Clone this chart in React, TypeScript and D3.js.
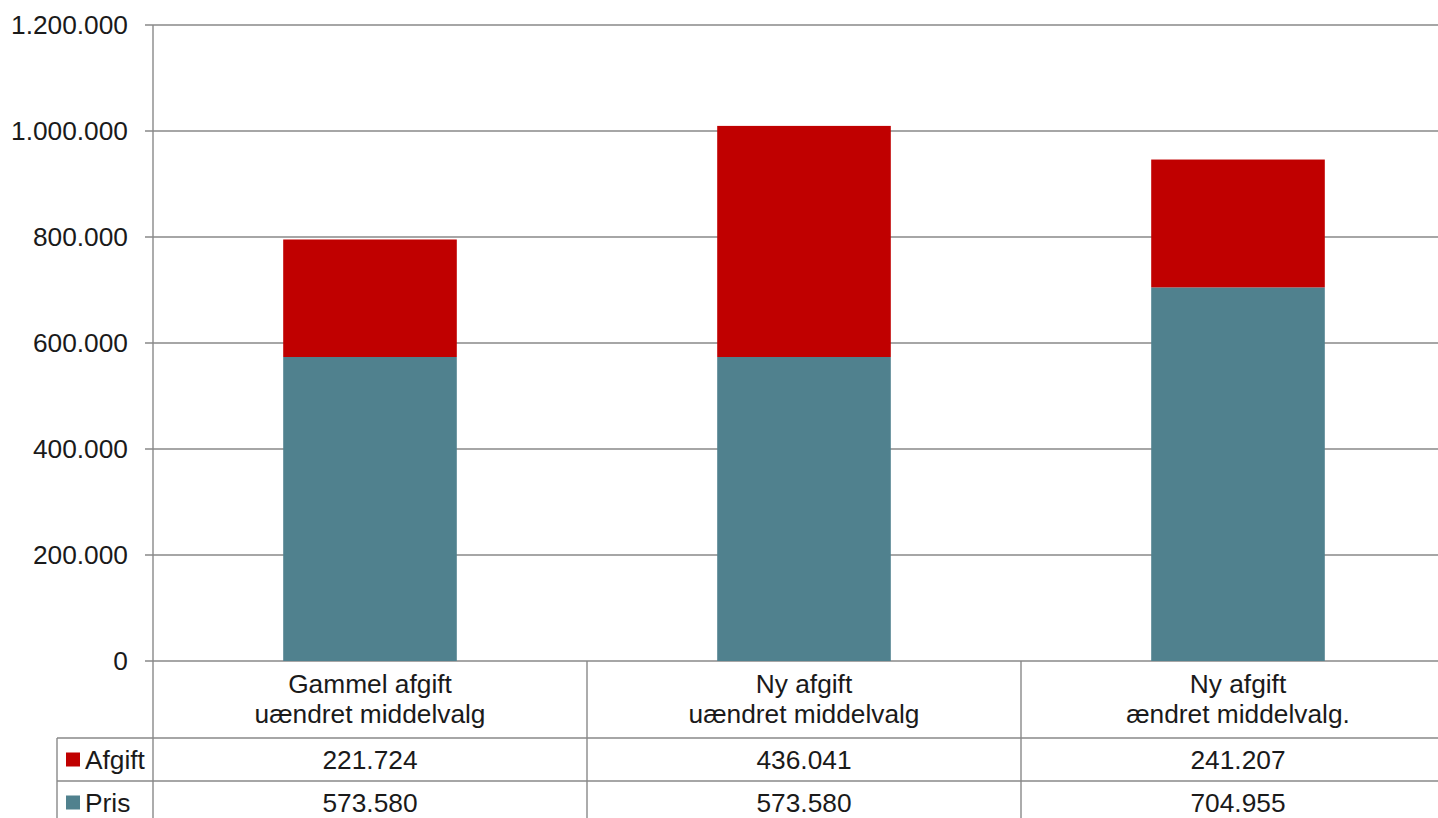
import React from "react";
import * as d3 from "d3";

const categories: string[][] = [
  ["Gammel afgift", "uændret middelvalg"],
  ["Ny afgift", "uændret middelvalg"],
  ["Ny afgift", "ændret middelvalg."],
];
const seriesNames = ["Afgift", "Pris"];
const afgift = [221724, 436041, 241207];
const pris = [573580, 573580, 704955];
const yTicks = [0, 200000, 400000, 600000, 800000, 1000000, 1200000];

const W = 1438;
const H = 818;
const colors: Record<string, string> = { Afgift: "#C00000", Pris: "#50818E" };

const locale = d3.formatLocale({ decimal: ",", thousands: ".", grouping: [3], currency: ["", " kr."] });
const fmt = locale.format(",d");

export default function App() {
  const left = 153;
  const catW = 434;
  const top = 25;
  const bottom = 661;
  const x = d3
    .scaleBand<number>()
    .domain([0, 1, 2])
    .range([left, left + catW * 3])
    .paddingInner(0.6)
    .paddingOuter(0.3);
  const y = d3.scaleLinear().domain([0, 1200000]).range([bottom, top]);

  const stacked = d3
    .stack<{ Afgift: number; Pris: number }>()
    .keys(["Pris", "Afgift"])(afgift.map((a, i) => ({ Afgift: a, Pris: pris[i] })));

  const grid = "#898989";
  const font = "'Liberation Sans', Arial, sans-serif";
  const fs = 26.3;
  const txt = "#1a1a1a";
  const catRowBottom = 738;
  const rowH = 43;
  const legendLeft = 57;
  const tableRows = [
    { key: seriesNames[0], vals: afgift },
    { key: seriesNames[1], vals: pris },
  ];

  return (
    <svg
      width={W}
      height={H}
      style={{ position: "absolute", left: 0, top: 0, background: "#fff" }}
      fontFamily={font}
    >
      {yTicks.map((t) => (
        <g key={t}>
          <line x1={145} x2={W} y1={y(t)} y2={y(t)} stroke={grid} strokeWidth={1.4} />
          <text x={128} y={y(t)} dy="0.35em" textAnchor="end" fontSize={fs} fill={txt}>
            {fmt(t)}
          </text>
        </g>
      ))}
      {stacked.map((s) => (
        <g key={s.key}>
          {s.map((d, i) => (
            <rect
              key={i}
              x={x(i)}
              width={x.bandwidth()}
              y={y(d[1])}
              height={y(d[0]) - y(d[1])}
              fill={colors[s.key]}
            />
          ))}
        </g>
      ))}
      <line x1={left} x2={left} y1={top} y2={H} stroke={grid} strokeWidth={1.4} />
      {[1, 2].map((i) => (
        <line
          key={i}
          x1={left + catW * i}
          x2={left + catW * i}
          y1={bottom}
          y2={H}
          stroke={grid}
          strokeWidth={1.4}
        />
      ))}
      {[0, 1].map((r) => (
        <line
          key={r}
          x1={legendLeft}
          x2={W}
          y1={catRowBottom + r * rowH}
          y2={catRowBottom + r * rowH}
          stroke={grid}
          strokeWidth={1.4}
        />
      ))}
      <line x1={legendLeft} x2={legendLeft} y1={catRowBottom} y2={H} stroke={grid} strokeWidth={1.4} />
      {categories.map((c, i) => (
        <text key={i} textAnchor="middle" fontSize={fs} fill={txt}>
          {c.map((line, j) => (
            <tspan key={j} x={left + catW * i + catW / 2} y={693 + j * 30}>
              {line}
            </tspan>
          ))}
        </text>
      ))}
      {tableRows.map((r, ri) => {
        const cy = catRowBottom + ri * rowH + rowH / 2;
        return (
          <g key={r.key}>
            <rect x={66} y={cy - 7} width={14} height={14} fill={colors[r.key]} />
            <text x={85} y={cy} dy="0.35em" fontSize={fs} fill={txt}>
              {r.key}
            </text>
            {r.vals.map((v, i) => (
              <text
                key={i}
                x={left + catW * i + catW / 2}
                y={cy}
                dy="0.35em"
                textAnchor="middle"
                fontSize={fs}
                fill={txt}
              >
                {fmt(v)}
              </text>
            ))}
          </g>
        );
      })}
    </svg>
  );
}
